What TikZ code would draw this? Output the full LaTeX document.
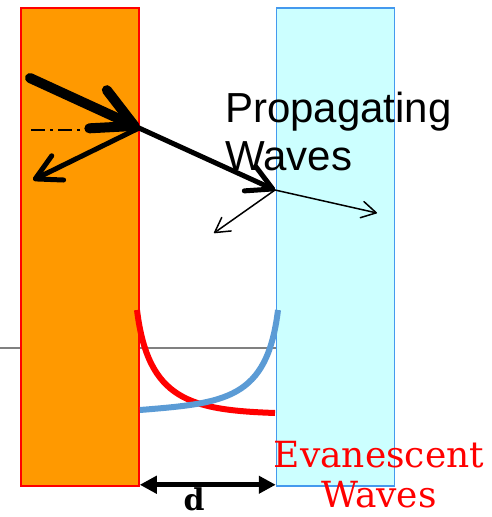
\documentclass[tikz,border=0pt]{standalone}
\usepackage{fontspec}
\setmainfont{Liberation Sans}
\newfontfamily\slabfont{DejaVu Serif}
\usetikzlibrary{positioning,arrows.meta}

\definecolor{slaborange}{HTML}{FF9900}
\definecolor{slabcyan}{HTML}{CCFFFF}
\definecolor{slabblue}{HTML}{4499EE}
\definecolor{decayblue}{HTML}{5B9BD5}

\begin{document}
\begin{tikzpicture}[
    x=1pt, y=-1pt,
    slab/.style={draw, line width=1.5pt, inner sep=0pt, minimum width=118pt, minimum height=478pt},
    beam/.style={line width=#1, line cap=round, -{Straight Barb[round, length=3*#1+10pt, width=3*#1+12pt]}},
    decay/.style={line width=6pt},
    gap/.style={line width=5pt, {Triangle[length=17pt, width=17pt]}-{Triangle[length=17pt, width=17pt]}}
]
\useasboundingbox (0,0) rectangle (491,517);

% axis behind the slabs
\coordinate (axisL) at (0,348);
\coordinate (axisR) at (300,348);
\draw[gray, line width=1.5pt] (axisL) -- (axisR);

\node[slab, draw=red, fill=slaborange] (left) at (80,247) {};
\node[slab, draw=slabblue, fill=slabcyan] (right) at (335.5,247) {};

% rays
\coordinate (src) at (30,78);
\coordinate (hit) at (139,128);
\coordinate (refl) at (33,180);
\coordinate (exit) at (275,190);
\coordinate (trans) at (377,213);
\coordinate (back) at (214,233);
\coordinate (normal) at (31,130);

\draw[line width=1.5pt, dash pattern=on 14pt off 5pt on 3pt off 5pt] (normal) -- ([xshift=-50pt]hit |- normal);
\draw[beam=10pt] (src) -- (hit);
\draw[beam=5pt] (hit) -- (refl);
\draw[beam=5pt] (hit) -- (exit);
\draw[beam=1.5pt] (exit) -- (trans);
\draw[beam=1.5pt] (exit) -- (back);

\node[anchor=north west, align=left, inner sep=0pt, font=\fontsize{42}{48}\selectfont] (prop) at (225,92) {Propagating\\Waves};

% decaying fields
\coordinate (redA) at (137,310);
\coordinate (redB) at (275,413);
\coordinate (blueA) at (278,310);
\coordinate (blueB) at (140,410);
\draw[decay, red] (redA) .. controls (148,400) and (190,410) .. (redB);
\draw[decay, decayblue] (blueA) .. controls (267,400) and (225,403) .. (blueB);

\draw[gap] ([yshift=2pt]left.south east) -- ([yshift=2pt]right.south west);
\node[font=\slabfont\bfseries\fontsize{30}{30}\selectfont, inner sep=0pt] (dist) at (194,499) {d};

\node[align=center, red, inner sep=0pt, font=\slabfont\fontsize{36}{40}\selectfont] (evan) at (379,475) {Evanescent\\Waves};
\end{tikzpicture}
\end{document}
